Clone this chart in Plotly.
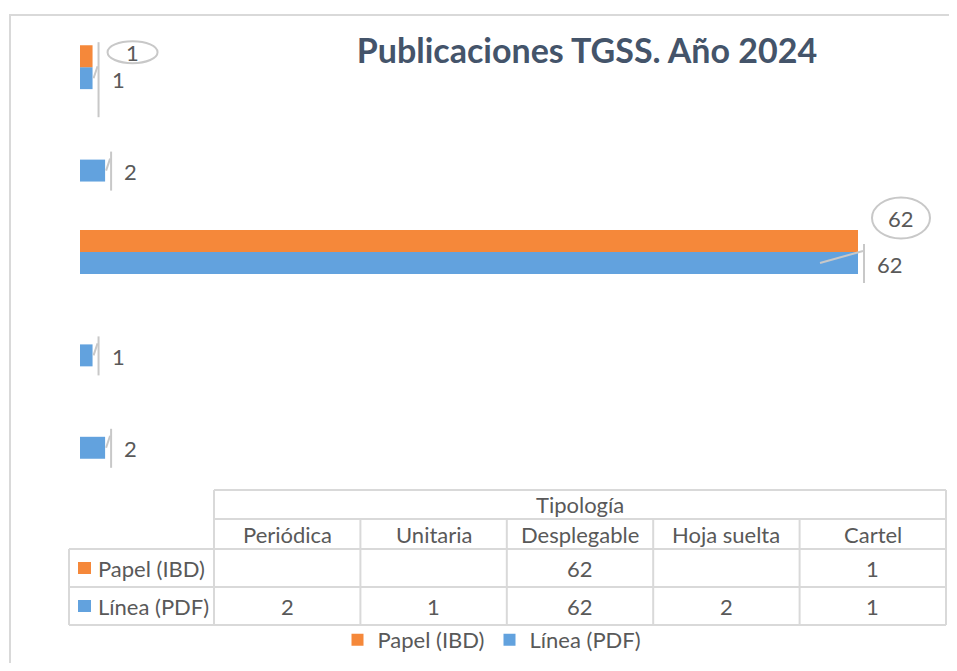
import plotly.graph_objects as go

# Datos ---------------------------------------------------------------------
titulo = "Publicaciones TGSS. Año 2024"
eje_titulo = "Tipología"
categorias = ["Periódica", "Unitaria", "Desplegable", "Hoja suelta", "Cartel"]
series = ["Papel (IBD)", "Línea (PDF)"]
papel = [None, None, 62, None, 1]
linea = [2, 1, 62, 2, 1]

# Estilo ---------------------------------------------------------------------
NARANJA = "#F5883A"
AZUL = "#62A2DE"
GRIS_TXT = "#595959"
GRIS_LIN = "#D9D9D9"
GRIS_GUIA = "#C8C8C8"
FUENTE = "Lato"
FS = 22

S = 8  # margen del body de la página
W, H = 957 - S, 671 - 2 * S
L, T = 80 - S, 21 - S
PW = 870
PH = 462
R = W - L - PW
B = H - T - PH
OFF = 11  # medio ancho de barra en px (desplazamiento de cada serie)


# coordenadas de pantalla -> papel
def px(x):
    return (x - S - L) / PW


def py(y):
    return (T + PH - (y - S)) / PH


fig = go.Figure()
fig.add_bar(y=categorias, x=linea, orientation="h", name=series[1],
            marker=dict(color=AZUL, line_width=0), legendrank=2)
fig.add_bar(y=categorias, x=papel, orientation="h", name=series[0],
            marker=dict(color=NARANJA, line_width=0), legendrank=1)

txt = dict(family=FUENTE, size=FS, color=GRIS_TXT)


def linea_px(v, i, x0, y0, x1, y1):
    fig.add_shape(type="line", xref="x", yref="y", xsizemode="pixel", ysizemode="pixel",
                  xanchor=v, yanchor=i, x0=x0, y0=y0, x1=x1, y1=y1,
                  line=dict(color=GRIS_GUIA, width=2))


# Etiquetas de la serie en línea (con guía) ---------------------------------
for i, (cat, v) in enumerate(zip(categorias, linea)):
    if v is None:
        continue
    fig.add_annotation(x=v, y=cat, text=str(v), xanchor="left", xshift=17,
                       yshift=-OFF - 1, showarrow=False, font=txt)
    top, bot = -OFF + 19, -OFF - 20
    if papel[i] is not None and papel[i] < 10:
        top, bot = OFF + 14, -OFF - 39
    linea_px(v, i, 6, top, 6, bot)
    x_ini = -38 if v > 10 else 1
    linea_px(v, i, x_ini, -OFF, 5, -OFF + 12)

# Etiquetas de papel en globo -------------------------------------------------
globos = {"Cartel": (40, 4, 50, 22), "Desplegable": (43, 23, 58, 41)}
for i, (cat, v) in enumerate(zip(categorias, papel)):
    if v is None:
        continue
    dx, dy, gw, gh = globos[cat]
    fig.add_shape(type="circle", xref="x", yref="y", xsizemode="pixel", ysizemode="pixel",
                  xanchor=v, yanchor=i, x0=dx - gw / 2, x1=dx + gw / 2,
                  y0=OFF + dy - gh / 2, y1=OFF + dy + gh / 2,
                  line=dict(color=GRIS_GUIA, width=2), fillcolor="white")
    fig.add_annotation(x=v, y=cat, text=str(v), xanchor="center", xshift=dx,
                       yshift=OFF + dy, showarrow=False, font=txt)

# Tabla de datos ------------------------------------------------------------
tx0, tx1, lx0 = 214, 946, 69
rows_y = [490, 519, 549, 587, 625]
col_w = (tx1 - tx0) / len(categorias)


def hline(x0, x1, y):
    fig.add_shape(type="line", xref="paper", yref="paper", x0=px(x0), x1=px(x1),
                  y0=py(y), y1=py(y), line=dict(color=GRIS_LIN, width=2))


def vline(x, y0, y1):
    fig.add_shape(type="line", xref="paper", yref="paper", x0=px(x), x1=px(x),
                  y0=py(y0), y1=py(y1), line=dict(color=GRIS_LIN, width=2))


hline(tx0, tx1, rows_y[0])
hline(tx0, tx1, rows_y[1])
for y in rows_y[2:]:
    hline(lx0, tx1, y)
vline(tx0, rows_y[0], rows_y[-1])
vline(tx1, rows_y[0], rows_y[-1])
vline(lx0, rows_y[2], rows_y[-1])
for k in range(1, len(categorias)):
    vline(tx0 + k * col_w, rows_y[1], rows_y[-1])


def celda(x, y, s, anchor="center"):
    fig.add_annotation(xref="paper", yref="paper", x=px(x), y=py(y), text=s,
                       xanchor=anchor, yanchor="middle", showarrow=False, font=txt)


celda((tx0 + tx1) / 2, (rows_y[0] + rows_y[1]) / 2, eje_titulo)
for k, cat in enumerate(categorias):
    cx = tx0 + (k + 0.5) * col_w
    celda(cx, (rows_y[1] + rows_y[2]) / 2, cat)
    for r, vals in enumerate([papel, linea]):
        if vals[k] is not None:
            celda(cx, (rows_y[2 + r] + rows_y[3 + r]) / 2, str(vals[k]))

for r, (nombre, color) in enumerate(zip(series, [NARANJA, AZUL])):
    cy = (rows_y[2 + r] + rows_y[3 + r]) / 2
    fig.add_shape(type="rect", xref="paper", yref="paper", x0=px(78), x1=px(91),
                  y0=py(cy + 6), y1=py(cy - 6), fillcolor=color, line_width=0)
    celda(96, cy, nombre, anchor="left")

# Marco del gráfico
fig.add_shape(type="rect", xref="paper", yref="paper", x0=px(10), x1=px(1000),
              y0=py(15), y1=py(700), line=dict(color=GRIS_LIN, width=2), layer="below")

fig.update_layout(
    width=W, height=H,
    margin=dict(l=L, r=R, t=T, b=B, autoexpand=False),
    paper_bgcolor="white", plot_bgcolor="white",
    barmode="group", bargap=0.525, bargroupgap=0,
    title=dict(text=f"<b>{titulo}</b>", xref="container", x=(587 - S) / W, xanchor="center",
               yref="container", y=1 - (51 - S) / H, yanchor="middle",
               font=dict(family=FUENTE, size=34, color="#44546A")),
    xaxis=dict(range=[0, 62 * PW / 778], visible=False),
    yaxis=dict(categoryorder="array", categoryarray=categorias, range=[-0.5, 4.5], visible=False),
    showlegend=True,
    legend=dict(orientation="h", x=px(492), xanchor="center", y=py(640), yanchor="middle",
                font=txt, bgcolor="rgba(0,0,0,0)"),
)

fig.write_html("out.html")
